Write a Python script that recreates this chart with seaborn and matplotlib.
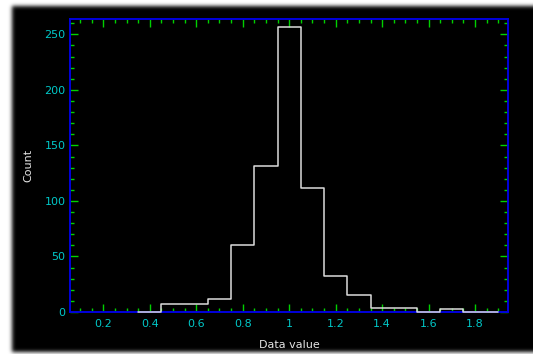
import numpy as np
import pandas as pd
import matplotlib
matplotlib.use("Agg")
import matplotlib.pyplot as plt
import seaborn as sns
from matplotlib.ticker import MultipleLocator

# Histogram bins (edges) and counts per bin
bin_edges = [0.35, 0.45, 0.55, 0.65, 0.75, 0.85, 0.95, 1.05, 1.15,
             1.25, 1.35, 1.45, 1.55, 1.65, 1.75, 1.90]
counts = [0, 7, 7, 12, 60, 131, 257, 112, 32, 15, 4, 4, 0, 3, 0]
x_ticks = [0.2, 0.4, 0.6, 0.8, 1.0, 1.2, 1.4, 1.6, 1.8]
x_tick_labels = ["0.2", "0.4", "0.6", "0.8", "1", "1.2", "1.4", "1.6", "1.8"]
y_ticks = [0, 50, 100, 150, 200, 250]
x_label = "Data value"
y_label = "Count"

centers = [(a + b) / 2 for a, b in zip(bin_edges[:-1], bin_edges[1:])]
df = pd.DataFrame({"value": centers, "count": counts})

sns.set_theme(style="dark")
plt.rcParams["font.family"] = ["DejaVu Sans"]

W, H = 533, 354
fig = plt.figure(figsize=(W / 100, H / 100), dpi=100, facecolor="white")

# Black panel with a soft shadowed edge
bg = np.ones((H, W))
bg[6:352, 12:] = 0.0
k = np.exp(-0.5 * (np.arange(-6, 7) / 2.0) ** 2)
k /= k.sum()
pad = np.pad(bg, 6, mode="edge")
pad = np.apply_along_axis(lambda r: np.convolve(r, k, mode="same"), 1, pad)
pad = np.apply_along_axis(lambda c: np.convolve(c, k, mode="same"), 0, pad)
bg = pad[6:-6, 6:-6]
ax_bg = fig.add_axes([0, 0, 1, 1])
ax_bg.imshow(bg, cmap="gray", vmin=0, vmax=1, aspect="auto",
             interpolation="bilinear")
ax_bg.set_axis_off()

ax = fig.add_axes([69.5 / W, (H - 312) / H, (508.3 - 69.5) / W, (312 - 19) / H])
ax.set_facecolor("black")

sns.histplot(data=df, x="value", weights="count", bins=bin_edges,
             element="step", fill=False, color="#dcdcdc", linewidth=1.1,
             ax=ax)
for coll in ax.collections + ax.lines + ax.patches:
    coll.set_zorder(3)
    coll.set_clip_on(False)

ax.set_xlim(0.0545, 1.943)
ax.set_ylim(0, 263.8)
ax.grid(False)

ax.xaxis.set_major_locator(MultipleLocator(0.2))
ax.xaxis.set_minor_locator(MultipleLocator(0.05))
ax.yaxis.set_major_locator(MultipleLocator(50))
ax.yaxis.set_minor_locator(MultipleLocator(10))
ax.set_xticks(x_ticks)
ax.set_xticklabels(x_tick_labels)
ax.set_yticks(y_ticks)

ax.tick_params(which="both", direction="in", top=True, right=True,
               bottom=True, left=True, color="#00d000", width=1.0)
ax.tick_params(which="major", length=5.5, labelsize=8, labelcolor="#00c8c8",
               pad=5)
ax.tick_params(which="minor", length=3.2)
ax.tick_params(axis="y", which="major", pad=3)

for side in ax.spines.values():
    side.set_visible(True)
    side.set_color("#0000dd")
    side.set_linewidth(1.4)

ax.set_xlabel(x_label, color="#e6e6e6", fontsize=8, labelpad=8)
ax.set_ylabel(y_label, color="#e6e6e6", fontsize=8, labelpad=8)

fig.savefig("out.png", dpi=100, facecolor="white")
